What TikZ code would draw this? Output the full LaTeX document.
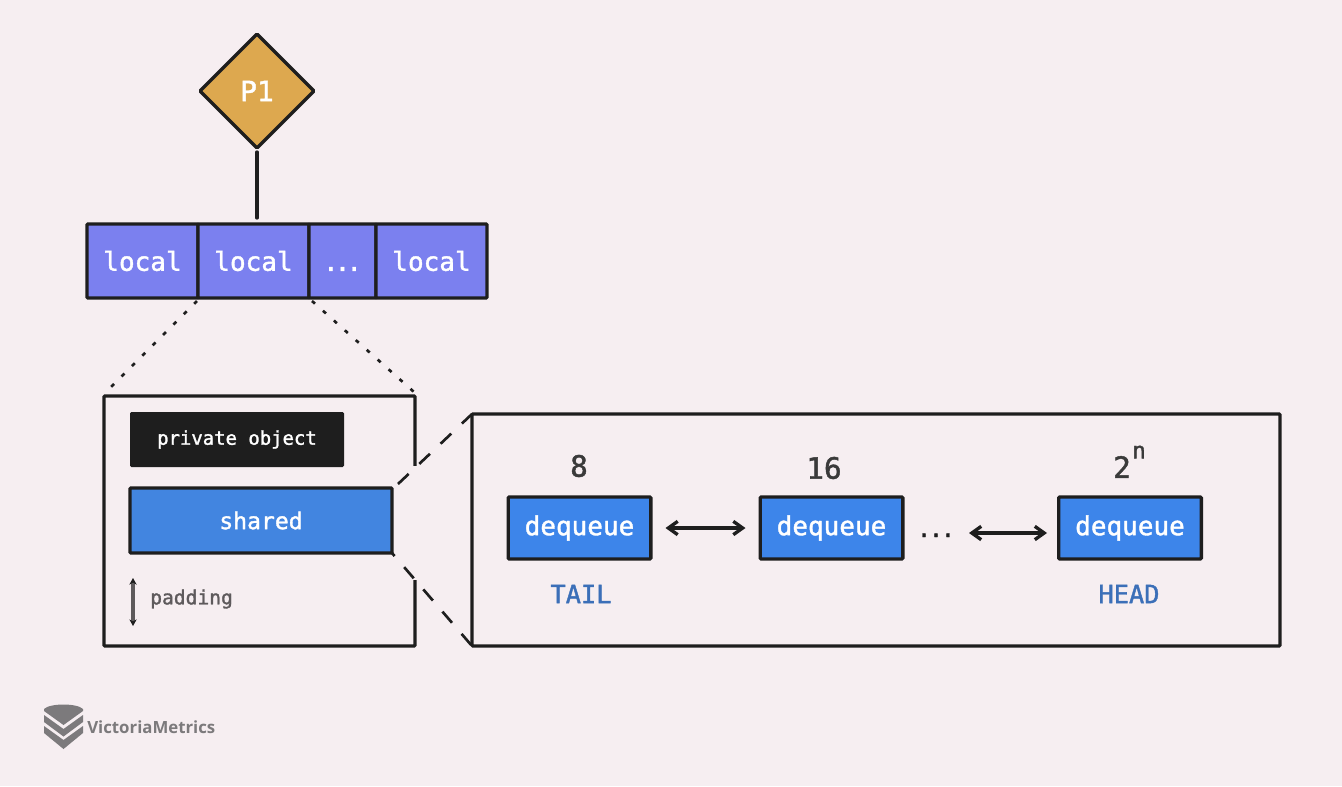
\documentclass[tikz,border=0pt]{standalone}
\usepackage{fontspec}
\usetikzlibrary{shapes.geometric,arrows.meta,positioning}
\setmonofont[FakeBold=1.5]{DejaVu Sans Mono}
\setsansfont{Open Sans}
\definecolor{bgc}{HTML}{F6EEF1}
\definecolor{ink}{HTML}{1E1E1E}
\definecolor{gold}{HTML}{DDA84F}
\definecolor{violet}{HTML}{7B80EF}
\definecolor{blueA}{HTML}{4285E0}
\definecolor{blueB}{HTML}{3D85EA}
\definecolor{blueT}{HTML}{3B6FB8}
\definecolor{numc}{HTML}{3A3A3A}
\definecolor{grayT}{HTML}{5E5A5C}
\definecolor{logoc}{HTML}{7C7A7C}
\newcommand{\fsz}[1]{\fontsize{#1}{#1}\selectfont}
\tikzset{
  px/.style={x=0.75pt,y=-0.75pt},
  edge/.style={draw=ink,line width=2.5pt,rounded corners=0.8pt,inner sep=0pt,outer sep=0pt},
  cell/.style={edge,fill=violet,text=white,font=\ttfamily\fsz{19.5},minimum height=55.5pt},
  dq/.style={edge,fill=blueB,text=white,minimum width=107pt,minimum height=46.5pt,font=\ttfamily\fsz{19.5}},
  num/.style={text=numc,font=\ttfamily\fsz{22},inner sep=0pt},
  tag/.style={text=blueT,font=\ttfamily\fsz{19},inner sep=0pt},
  conn/.style={draw=ink,line width=2.5pt,line cap=round},
  dotline/.style={draw=ink,line width=2pt,dash pattern=on 3pt off 8pt},
  dashline/.style={draw=ink,line width=2pt,dash pattern=on 11pt off 11pt},
  twoway/.style={draw=ink,line width=2.5pt,{Straight Barb[length=7pt,width=10pt]}-{Straight Barb[length=7pt,width=10pt]}},
}
\begin{document}
\begin{tikzpicture}[px]
\fill[bgc] (0,0) rectangle (1342,786);
\useasboundingbox (0,0) rectangle (1342,786);

% P1 and the bar of locals
\node[edge,diamond,aspect=1,fill=gold,text=white,minimum width=85.5pt,minimum height=85.5pt,font=\ttfamily\fsz{21}] (p1) at (257,91) {P1};
\node[cell,minimum width=83.25pt] (l1) at (142.5,261) {\raisebox{-1pt}{local}};
\node[cell,minimum width=83.25pt] (l2) at (253.5,261) {\raisebox{-1pt}{local}};
\node[cell,minimum width=50.25pt] (l3) at (342.5,261) {\vphantom{l}.\kern-3pt.\kern-3pt.};
\node[cell,minimum width=83.25pt] (l4) at (431.5,261) {\raisebox{-1pt}{local}};
\draw[conn,shorten <=3pt,shorten >=4.5pt] (p1.south) -- (l2.north -| p1.south);

% detail box
\node[edge,minimum width=233.25pt,minimum height=187.5pt] (detail) at (259.5,521) {};
\fill[bgc] (411,466) rectangle (419,580);
\node[draw=none,fill=ink,rounded corners=1pt,text=white,minimum width=160.5pt,minimum height=41.25pt,inner sep=0pt,font=\ttfamily\fsz{14.2}] (priv) at (237,439.5) {\raisebox{-1.5pt}{private object}};
\node[edge,fill=blueA,text=white,minimum width=196.5pt,minimum height=48.75pt,font=\ttfamily\fsz{17.3}] (shared) at (261,520.5) {\raisebox{-1pt}{shared}};
\coordinate (padtop) at (133,578);
\coordinate (padbot) at (133,626);
\draw[draw=grayT,line width=2.4pt,{Stealth[length=5pt,width=5.5pt,ink]}-{Stealth[length=5pt,width=5.5pt,ink]}] (padtop) -- (padbot);
\node[anchor=west,text=grayT,inner sep=0pt,font=\ttfamily\fsz{14.7}] (pad) at (150,599) {padding};

% dotted zoom lines
\coordinate (dA) at (197,301);
\coordinate (dB) at (110,388);
\coordinate (dC) at (312,301);
\coordinate (dD) at (414,392);
\draw[dotline] (dA) -- (dB);
\draw[dotline] (dC) -- (dD);

% right box
\node[edge,minimum width=606pt,minimum height=174pt] (deq) at (876,530) {};
\draw[dashline] (shared.north east) ++(6,-4) coordinate (sa) (sa) -- (deq.north west);
\draw[dashline,dash phase=8pt] (shared.south east) -- (deq.south west);

\node[dq] (q1) at (579.5,528) {dequeue};
\node[dq] (q2) at (831.5,528) {dequeue};
\node[dq] (q3) at (1130,528) {dequeue};
\draw[twoway,shorten <=11pt,shorten >=11pt] (q1) -- (q2);
\node[anchor=base,inner sep=0pt,text=ink,font=\ttfamily\fsz{17}] (dots) at (936,537) {.\kern-1.2pt.\kern-1.2pt.};
\coordinate (ar1) at (969,533);
\coordinate (ar2) at (1047,533);
\draw[twoway] (ar1) -- (ar2);

\node[num] (n8) at (579,466) {8};
\node[num] (n16) at (824,468) {16};
\node[num] (n2) at (1122,467) {2};
\node[text=numc,inner sep=0pt,font=\ttfamily\fsz{17}] (nn) at (1139,452) {n};
\node[tag] (tail) at (581,594) {TAIL};
\node[tag] (head) at (1129,594) {HEAD};

% logo
\fill[logoc] (44,709) .. controls (50,703) and (77,703) .. (83,709) -- (83,711) -- (63.5,725) -- (44,711) -- cycle;
\fill[logoc] (44,715) -- (63.5,729) -- (83,715) -- (83,722) -- (63.5,736.5) -- (44,722) -- cycle;
\fill[logoc] (44,726) -- (63.5,740) -- (83,726) -- (83,733) -- (63.5,749) -- (44,733) -- cycle;
\node[anchor=west,text=logoc,inner sep=0pt,font=\sffamily\bfseries\fsz{12.6}] (logo) at (87,727) {VictoriaMetrics};
\end{tikzpicture}
\end{document}
